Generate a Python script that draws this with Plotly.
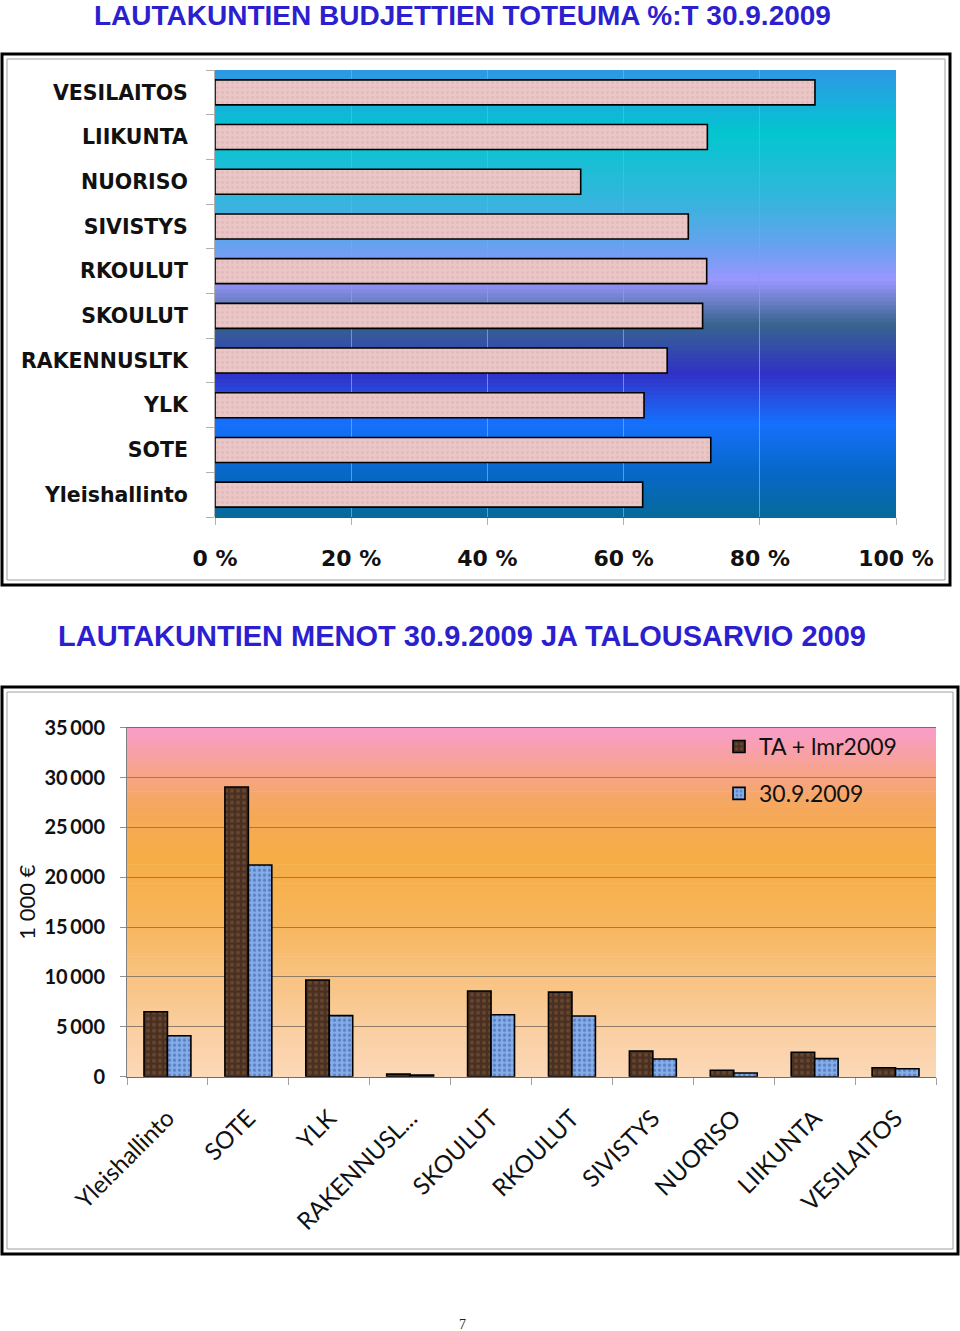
import plotly.graph_objects as go

# --- DATA ---
top_categories = ["Yleishallinto", "SOTE", "YLK", "RAKENNUSLTK", "SKOULUT",
                  "RKOULUT", "SIVISTYS", "NUORISO", "LIIKUNTA", "VESILAITOS"]
toteuma_pct = [62.8, 72.8, 63.0, 66.4, 71.6, 72.2, 69.5, 53.7, 72.3, 88.1]

bottom_categories = ["Yleishallinto", "SOTE", "YLK", "RAKENNUSL...", "SKOULUT",
                     "RKOULUT", "SIVISTYS", "NUORISO", "LIIKUNTA", "VESILAITOS"]
ta_lmr2009 = [6520, 29060, 9700, 260, 8600, 8480, 2580, 640, 2450, 900]
menot_30_9 = [4110, 21230, 6120, 160, 6220, 6090, 1780, 370, 1810, 800]

top_ticks = [0, 20, 40, 60, 80, 100]
top_tick_labels = ["0 %", "20 %", "40 %", "60 %", "80 %", "100 %"]

W, H = 960, 1331
TITLE_BLUE = "#2b1fcf"


def px(x):
    return x / W


def py(y):
    return 1 - y / H


def hex_rgb(h):
    h = h.lstrip("#")
    return tuple(int(h[i:i + 2], 16) for i in (0, 2, 4))


def lerp_color(stops, t):
    for (t0, c0), (t1, c1) in zip(stops[:-1], stops[1:]):
        if t0 <= t <= t1:
            f = 0 if t1 == t0 else (t - t0) / (t1 - t0)
            a, b = hex_rgb(c0), hex_rgb(c1)
            return "rgb(%d,%d,%d)" % tuple(round(a[i] + (b[i] - a[i]) * f) for i in range(3))
    return stops[-1][1]


def add_gradient(fig, xref, yref, stops, n=110):
    # pystysuuntainen liukuväri kuva-alueen taakse, t=0 ylhäällä
    for i in range(n):
        t = (i + 0.5) / n
        fig.add_shape(type="rect", xref=xref, yref=yref, layer="below",
                      x0=0, x1=1, y0=1 - (i + 1) / n - 0.002, y1=1 - i / n,
                      fillcolor=lerp_color(stops, t), line=dict(width=0))


fig = go.Figure()

# --- ylempi: toteuma % ---
fig.add_trace(go.Bar(
    x=toteuma_pct, y=top_categories, orientation="h", width=0.56,
    marker=dict(color="#e9c4c4", line=dict(color="black", width=1.6),
                pattern=dict(shape=".", bgcolor="#eac6c6", fgcolor="#d8b0b0",
                             size=5, solidity=0.25)),
    showlegend=False, xaxis="x", yaxis="y", hoverinfo="x+y"
))

# --- alempi: menot ---
fig.add_trace(go.Bar(
    x=bottom_categories, y=ta_lmr2009, name="TA + lmr2009",
    marker=dict(color="#4e3322", line=dict(color="black", width=1.6),
                pattern=dict(shape=".", bgcolor="#4b3020", fgcolor="#7d5d45",
                             size=6, solidity=0.35)),
    xaxis="x2", yaxis="y2", legendgroup="a"
))
fig.add_trace(go.Bar(
    x=bottom_categories, y=menot_30_9, name="30.9.2009",
    marker=dict(color="#7ea7e6", line=dict(color="black", width=1.6),
                pattern=dict(shape=".", bgcolor="#86ade8", fgcolor="#2d5aa8",
                             size=5, solidity=0.35)),
    xaxis="x2", yaxis="y2", legendgroup="b"
))

top_stops = [(0.0, "#2e98e6"), (0.14, "#03c6cf"), (0.3, "#38b4de"), (0.4, "#6aa0f0"),
             (0.47, "#9a96fe"), (0.57, "#37648e"), (0.68, "#3131c6"), (0.79, "#1670fe"),
             (0.9, "#0768c8"), (1.0, "#066a9a")]
bottom_stops = [(0.0, "#f99dcb"), (0.12, "#f7a38f"), (0.22, "#f5a85e"), (0.38, "#f6ad45"),
                (0.55, "#f7b55a"), (0.72, "#f8c382"), (0.86, "#face9f"), (1.0, "#fbd8b9")]
add_gradient(fig, "x domain", "y domain", top_stops)
add_gradient(fig, "x2 domain", "y2 domain", bottom_stops)

# kehykset
for x0, y0, x1, y1 in [(2, 54, 950, 585), (2, 687, 958, 1254)]:
    fig.add_shape(type="rect", xref="paper", yref="paper",
                  x0=px(x0), x1=px(x1), y0=py(y1), y1=py(y0),
                  line=dict(color="black", width=3))
    fig.add_shape(type="rect", xref="paper", yref="paper",
                  x0=px(x0 + 5), x1=px(x1 - 5), y0=py(y1 - 5), y1=py(y0 + 5),
                  line=dict(color="#a0a0a0", width=1))

fig.update_layout(
    width=W, height=H,
    margin=dict(l=0, r=0, t=0, b=0, autoexpand=False),
    paper_bgcolor="white", plot_bgcolor="white",
    barmode="group", bargap=0.42, bargroupgap=0,
    separators=",\u2009",
    xaxis=dict(domain=[px(215), px(896)], anchor="y", range=[0, 100],
               tickvals=top_ticks, ticktext=top_tick_labels, automargin=False,
               showgrid=True, gridcolor="rgba(150,160,175,0.8)", gridwidth=1,
               ticks="outside", ticklen=7, tickcolor="#b0b0b0",
               ticklabelstandoff=15, zeroline=False, showline=False,
               tickfont=dict(family="DejaVu Sans", size=22, color="#111111", weight="bold")),
    yaxis=dict(domain=[py(517), py(70)], anchor="x", tickson="boundaries",
               ticks="outside", ticklen=8, tickcolor="#b0b0b0", automargin=False,
               showline=True, linecolor="#b0b0b0", showgrid=False,
               ticklabelstandoff=22,
               tickfont=dict(family="DejaVu Sans", size=20.5, color="#111111", weight="bold")),
    xaxis2=dict(domain=[px(127), px(936)], anchor="y2", tickson="boundaries",
                ticks="outside", ticklen=7, tickcolor="#a0a0a0", tickangle=-45,
                showline=True, linecolor="#707070", mirror=True, showgrid=False,
                automargin=False, ticklabelstandoff=17,
                tickfont=dict(family="Lato", size=24, color="#111111")),
    yaxis2=dict(domain=[py(1076.7), py(727.7)], anchor="x2", range=[0, 35000],
                dtick=5000, tickformat=",d", showgrid=True, gridcolor="#8f7d66",
                gridwidth=1, ticks="outside", ticklen=6, tickcolor="#909090",
                showline=True, linecolor="#808080", zeroline=False,
                ticklabelstandoff=11, automargin=False,
                tickfont=dict(family="Lato", size=20, color="#111111", weight="bold"),
                title=dict(text="1 000 €", standoff=2,
                           font=dict(family="Lato", size=22, color="#111111"))),
    legend=dict(x=px(719), y=py(725), xanchor="left", yanchor="top",
                bgcolor="rgba(0,0,0,0)", traceorder="grouped", tracegroupgap=14,
                font=dict(family="Lato", size=23, color="#111111")),
    annotations=[
        dict(text="<b>LAUTAKUNTIEN BUDJETTIEN TOTEUMA %:T 30.9.2009</b>",
             xref="paper", yref="paper", x=px(462), y=py(15), showarrow=False,
             xanchor="center", yanchor="middle",
             font=dict(family="Liberation Sans", size=28, color=TITLE_BLUE)),
        dict(text="<b>LAUTAKUNTIEN MENOT 30.9.2009 JA TALOUSARVIO 2009</b>",
             xref="paper", yref="paper", x=px(462), y=py(636), showarrow=False,
             xanchor="center", yanchor="middle",
             font=dict(family="Liberation Sans", size=29, color=TITLE_BLUE)),
        dict(text="7", xref="paper", yref="paper", x=px(462), y=py(1324),
             showarrow=False, xanchor="center", yanchor="middle",
             font=dict(family="Liberation Serif", size=14, color="#222222")),
    ],
)

# sivun oletusmarginaali pois, jotta kuva alkaa vasemmasta yläkulmasta
fig.write_html("out.html", config={"displayModeBar": False},
               post_script="document.body.style.margin='0';")
